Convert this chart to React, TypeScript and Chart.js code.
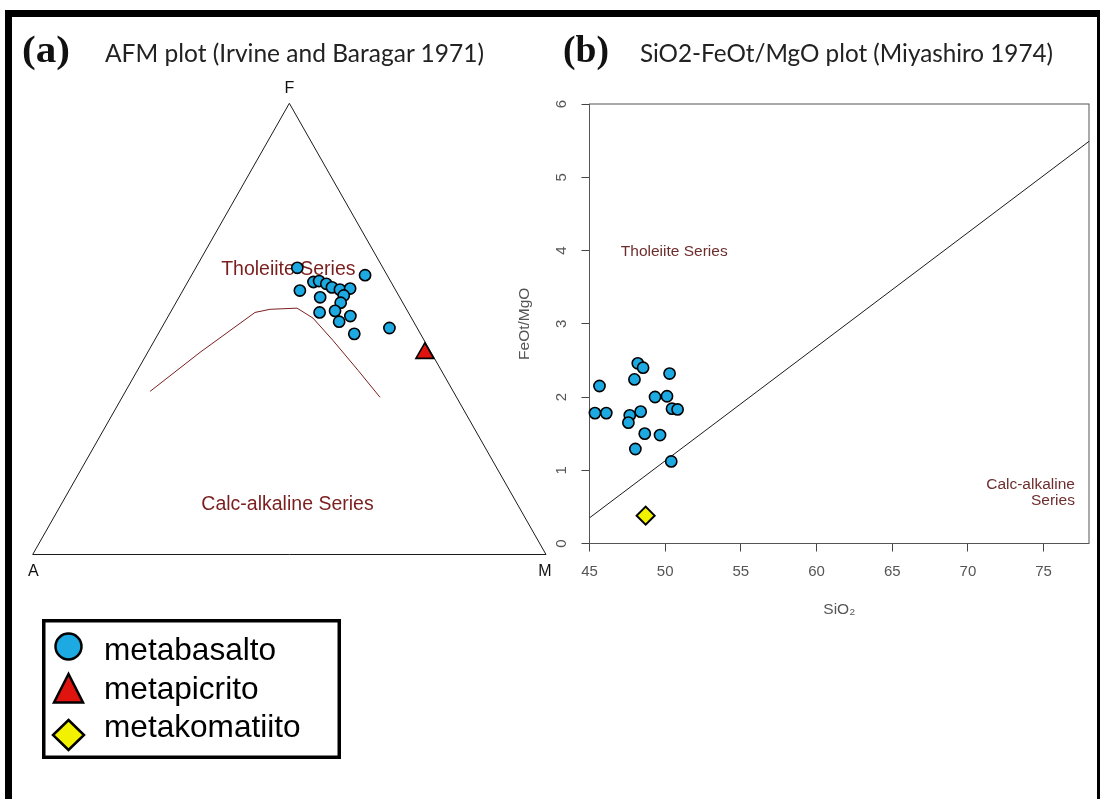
import React, { useEffect, useRef } from "react";
import { Chart, registerables } from "chart.js";

Chart.register(...registerables);

// ---------- (a) AFM ternary data (A = Na2O+K2O, F = FeOt, M = MgO, %) ----------
const basaltA = [16.7, 4.3, 18.7, 15.1, 13.9, 12.8, 12.1, 10.8, 8.7, 10.7, 15.5, 12.1, 17.3, 14.1, 11.7, 14.5, 12.9, 5.4];
const basaltF = [63.6, 61.9, 58.5, 60.4, 60.6, 60.0, 59.2, 58.7, 59.0, 57.4, 57.0, 55.8, 53.7, 54.0, 52.9, 51.6, 48.9, 50.2];
const basaltM = [19.8, 33.8, 22.8, 24.5, 25.5, 27.2, 28.7, 30.5, 32.4, 31.9, 27.5, 32.1, 29.1, 31.9, 35.5, 33.9, 38.2, 44.4];
const picriteA = [1.3];
const picriteF = [44.6];
const picriteM = [54.1];
// Irvine & Baragar (1971) tholeiite / calc-alkaline boundary
const boundaryA = [59.1, 45.0, 29.9, 26.6, 21.2, 19.2, 17.8, 16.2, 14.9];
const boundaryF = [36.2, 44.8, 53.7, 54.4, 54.6, 52.4, 47.5, 40.8, 34.8];
const boundaryM = [4.8, 10.2, 16.5, 19.1, 24.2, 28.4, 34.8, 43.0, 50.2];
// triangle outline A -> M -> F -> A
const outlineA = [100, 0, 0, 100];
const outlineF = [0, 0, 100, 0];
const outlineM = [0, 100, 0, 0];

// ---------- (b) SiO2 vs FeOt/MgO ----------
const basaltSiO2 = [45.66, 45.36, 46.11, 48.19, 48.54, 47.97, 50.29, 49.33, 50.12, 50.45, 50.82, 47.66, 47.57, 48.38, 48.65, 49.66, 48.03, 50.4];
const basaltRatio = [2.15, 1.78, 1.78, 2.46, 2.4, 2.24, 2.32, 2.0, 2.01, 1.84, 1.83, 1.75, 1.65, 1.8, 1.5, 1.48, 1.29, 1.12];
const komatiiteSiO2 = [48.71];
const komatiiteRatio = [0.38];
const miyashiroSiO2 = [45, 78];
const miyashiroRatio = [0.35, 5.49];
const xTickValues = [45, 50, 55, 60, 65, 70, 75];
const yTickValues = [0, 1, 2, 3, 4, 5, 6];

const BLUE = "#1DA9E1";
const RED = "#E0140F";
const YELLOW = "#F2F200";
const MAROON_A = "#7a1e1e";
const MAROON_B = "#6e2d2d";
const SANS = '"Liberation Sans", Arial, Helvetica, sans-serif';

const SQ3_2 = Math.sqrt(3) / 2;
function ternToXY(a: number, f: number, m: number) {
  const t = a + f + m;
  const fn = f / t;
  const mn = m / t;
  return { x: mn + fn / 2, y: fn * SQ3_2 };
}
const toPoints = (A: number[], F: number[], M: number[]) => A.map((a, i) => ternToXY(a, F[i], M[i]));
const toXY = (X: number[], Y: number[]) => X.map((x, i) => ({ x, y: Y[i] }));

const afmLabels = {
  id: "afmLabels",
  beforeDatasetsDraw(chart: any) {
    const { ctx, scales } = chart;
    const sx = scales.x;
    const sy = scales.y;
    const px = (p: { x: number; y: number }) => [sx.getPixelForValue(p.x), sy.getPixelForValue(p.y)];
    ctx.save();
    ctx.textAlign = "center";
    ctx.textBaseline = "middle";
    ctx.fillStyle = "#111";
    ctx.font = `16px ${SANS}`;
    const [ax, ay] = px(ternToXY(100, 0, 0));
    const [fx, fy] = px(ternToXY(0, 100, 0));
    const [mx, my] = px(ternToXY(0, 0, 100));
    ctx.fillText("A", ax + 0.6, ay + 17);
    ctx.fillText("F", fx, fy - 14.5);
    ctx.fillText("M", mx - 1, my + 17);
    ctx.fillStyle = MAROON_A;
    ctx.font = `19.5px ${SANS}`;
    ctx.fillText("Tholeiite Series", sx.getPixelForValue(0.498), sy.getPixelForValue(0.5467));
    ctx.fillText("Calc-alkaline Series", sx.getPixelForValue(0.4964), sy.getPixelForValue(0.0961));
    ctx.restore();
  },
};

const miyashiroDecor = {
  id: "miyashiroDecor",
  beforeDatasetsDraw(chart: any) {
    const { ctx, chartArea, scales } = chart;
    const sx = scales.x;
    const sy = scales.y;
    ctx.save();
    ctx.strokeStyle = "#555";
    ctx.lineWidth = 1;
    ctx.strokeRect(chartArea.left, chartArea.top, chartArea.right - chartArea.left, chartArea.bottom - chartArea.top);
    ctx.fillStyle = MAROON_B;
    ctx.font = `15.5px ${SANS}`;
    ctx.textBaseline = "middle";
    ctx.textAlign = "center";
    ctx.fillText("Tholeiite Series", sx.getPixelForValue(50.6), sy.getPixelForValue(3.98));
    ctx.textAlign = "right";
    ctx.fillText("Calc-alkaline", sx.getPixelForValue(77.07), sy.getPixelForValue(0.8));
    ctx.fillText("Series", sx.getPixelForValue(77.07), sy.getPixelForValue(0.58));
    ctx.restore();
  },
};

export default function App() {
  const refA = useRef<HTMLCanvasElement>(null);
  const refB = useRef<HTMLCanvasElement>(null);

  useEffect(() => {
    Chart.defaults.font.family = SANS;
    const chartA = new Chart(refA.current as HTMLCanvasElement, {
      type: "scatter",
      data: {
        datasets: [
          {
            label: "metabasalto",
            data: toPoints(basaltA, basaltF, basaltM),
            pointStyle: "circle",
            pointRadius: 5.6,
            pointBackgroundColor: BLUE,
            pointBorderColor: "#000",
            pointBorderWidth: 1.6,
            clip: false,
          } as any,
          {
            label: "metapicrito",
            data: toPoints(picriteA, picriteF, picriteM),
            pointStyle: "triangle",
            pointRadius: 10.3,
            pointBackgroundColor: RED,
            pointBorderColor: "#000",
            pointBorderWidth: 1.6,
            clip: false,
          } as any,
          {
            label: "boundary",
            data: toPoints(boundaryA, boundaryF, boundaryM),
            showLine: true,
            borderColor: MAROON_A,
            borderWidth: 1,
            pointRadius: 0,
            tension: 0,
            clip: false,
          } as any,
          {
            label: "outline",
            data: toPoints(outlineA, outlineF, outlineM),
            showLine: true,
            borderColor: "#1a1a1a",
            borderWidth: 1,
            pointRadius: 0,
            tension: 0,
            clip: false,
          } as any,
        ],
      },
      options: {
        animation: false,
        responsive: false,
        maintainAspectRatio: false,
        events: [],
        layout: { padding: { left: 32.7, right: 24, top: 43.3, bottom: 45.5 } },
        scales: {
          x: { type: "linear", min: 0, max: 1, display: false },
          y: { type: "linear", min: 0, max: SQ3_2, display: false },
        },
        plugins: { legend: { display: false }, tooltip: { enabled: false } },
      } as any,
      plugins: [afmLabels],
    });

    const gridOpts = { drawOnChartArea: false, drawTicks: true, tickLength: 8, tickColor: "#444", tickWidth: 1 };
    const chartB = new Chart(refB.current as HTMLCanvasElement, {
      type: "scatter",
      data: {
        datasets: [
          {
            label: "metabasalto",
            data: toXY(basaltSiO2, basaltRatio),
            pointStyle: "circle",
            pointRadius: 5.6,
            pointBackgroundColor: BLUE,
            pointBorderColor: "#000",
            pointBorderWidth: 1.6,
            clip: false,
          } as any,
          {
            label: "metakomatiito",
            data: toXY(komatiiteSiO2, komatiiteRatio),
            pointStyle: "rectRot",
            pointRadius: 9,
            pointBackgroundColor: YELLOW,
            pointBorderColor: "#000",
            pointBorderWidth: 2,
            clip: false,
          } as any,
          {
            label: "Miyashiro",
            data: toXY(miyashiroSiO2, miyashiroRatio),
            showLine: true,
            borderColor: "#1a1a1a",
            borderWidth: 1,
            pointRadius: 0,
            tension: 0,
          } as any,
        ],
      },
      options: {
        animation: false,
        responsive: false,
        maintainAspectRatio: false,
        events: [],
        layout: { padding: { left: 0, right: 9.5, top: 21.5, bottom: 36.5 } },
        scales: {
          x: {
            type: "linear",
            min: 45,
            max: 78,
            afterBuildTicks: (s: any) => {
              s.ticks = xTickValues.map((v) => ({ value: v }));
            },
            afterFit: (s: any) => {
              s.height = 80;
            },
            border: { display: false },
            grid: gridOpts,
            ticks: { color: "#555", font: { size: 15 }, padding: 11, maxRotation: 0, autoSkip: false },
            title: { display: true, text: "SiO₂", color: "#555", font: { size: 15.5 }, padding: { top: 0, bottom: 4.2 } },
          },
          y: {
            type: "linear",
            min: 0,
            max: 6,
            afterBuildTicks: (s: any) => {
              s.ticks = yTickValues.map((v) => ({ value: v }));
            },
            afterFit: (s: any) => {
              s.width = 119.5;
            },
            border: { display: false },
            grid: gridOpts,
            ticks: { color: "#555", font: { size: 15 }, padding: 15, minRotation: 90, maxRotation: 90, crossAlign: "center", autoSkip: false },
            title: { display: true, text: "FeOt/MgO", color: "#555", font: { size: 15.5 }, padding: { top: 45.7, bottom: 0 } },
          },
        },
        plugins: { legend: { display: false }, tooltip: { enabled: false } },
      } as any,
      plugins: [miyashiroDecor],
    });

    return () => {
      chartA.destroy();
      chartB.destroy();
    };
  }, []);

  const serif = '"Liberation Serif", "Times New Roman", serif';
  const titleFont = 'Lato, "Open Sans", sans-serif';

  return (
    <div style={{ position: "absolute", left: 0, top: 0, width: 1100, height: 799, overflow: "hidden", background: "#fff" }}>
      <div
        style={{
          position: "absolute",
          left: 5,
          top: 10,
          width: 1095,
          height: 820,
          boxSizing: "border-box",
          borderLeft: "7px solid #000",
          borderTop: "7px solid #000",
          borderRight: "3px solid #000",
        }}
      />
      <canvas ref={refA} width={570} height={540} style={{ position: "absolute", left: 0, top: 60, width: 570, height: 540 }} />
      <canvas ref={refB} width={630} height={580} style={{ position: "absolute", left: 470, top: 80, width: 630, height: 580 }} />
      <svg width={1100} height={799} style={{ position: "absolute", left: 0, top: 0, pointerEvents: "none" }}>
        <text x={22} y={62} fontFamily={serif} fontWeight="bold" fontSize={37} textLength={48} lengthAdjust="spacingAndGlyphs" fill="#111">
          (a)
        </text>
        <text x={105} y={61.5} fontFamily={titleFont} fontSize={25} textLength={379} lengthAdjust="spacingAndGlyphs" fill="#222">
          AFM plot (Irvine and Baragar 1971)
        </text>
        <text x={563} y={62} fontFamily={serif} fontWeight="bold" fontSize={37} textLength={46} lengthAdjust="spacingAndGlyphs" fill="#111">
          (b)
        </text>
        <text x={640} y={61.5} fontFamily={titleFont} fontSize={25} textLength={413} lengthAdjust="spacingAndGlyphs" fill="#222">
          SiO2-FeOt/MgO plot (Miyashiro 1974)
        </text>

        <rect x={43.75} y={620.75} width={295.5} height={136.5} fill="#fff" stroke="#000" strokeWidth={3.5} />
        <circle cx={68.5} cy={646.5} r={13} fill={BLUE} stroke="#000" strokeWidth={2.5} />
        <polygon points="68.5,674 54,702.5 83,702.5" fill={RED} stroke="#000" strokeWidth={2.5} strokeLinejoin="miter" />
        <polygon points="68.5,720 84,735 68.5,750 53,735" fill={YELLOW} stroke="#000" strokeWidth={2.5} />
        <text x={104} y={660} fontFamily={SANS} fontSize={31.6} fill="#000">
          metabasalto
        </text>
        <text x={104} y={698.5} fontFamily={SANS} fontSize={31.6} fill="#000">
          metapicrito
        </text>
        <text x={104} y={737} fontFamily={SANS} fontSize={31.6} fill="#000">
          metakomatiito
        </text>
      </svg>
    </div>
  );
}
